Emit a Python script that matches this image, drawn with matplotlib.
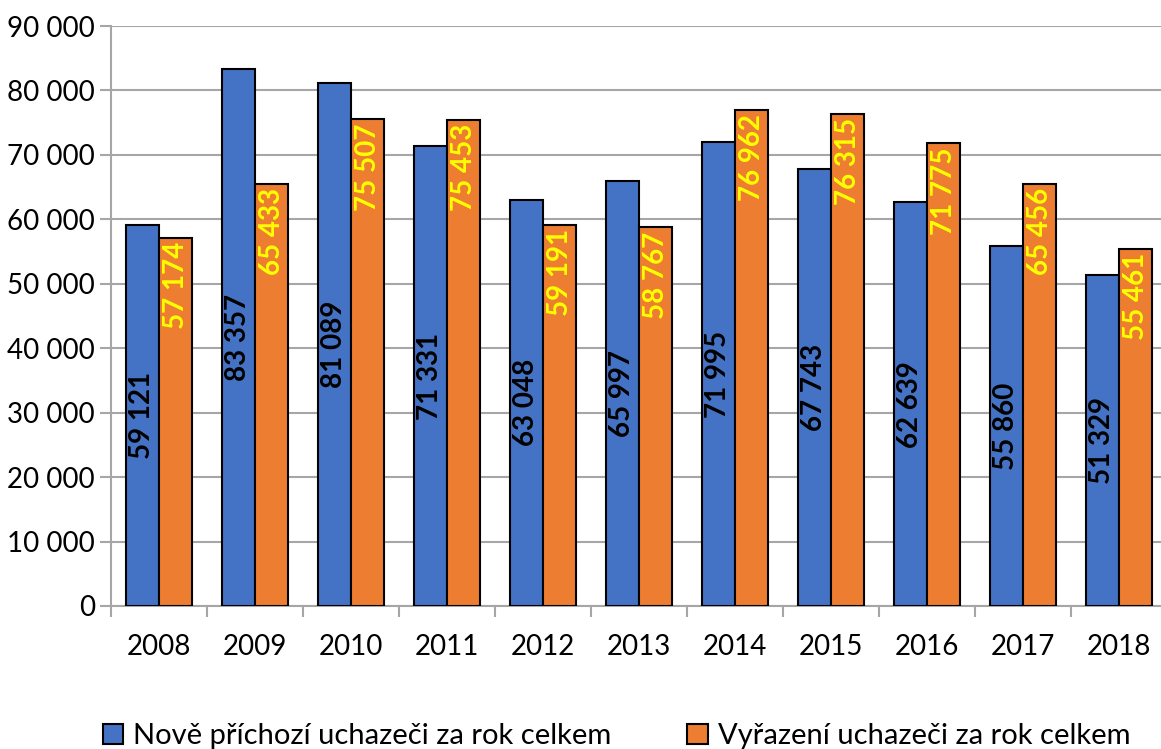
import numpy as np
import matplotlib.pyplot as plt
from matplotlib.patches import Patch

# data
years = ['2008', '2009', '2010', '2011', '2012', '2013', '2014', '2015', '2016', '2017', '2018']
nove = [59121, 83357, 81089, 71331, 63048, 65997, 71995, 67743, 62639, 55860, 51329]
vyrazeni = [57174, 65433, 75507, 75453, 59191, 58767, 76962, 76315, 71775, 65456, 55461]
legend_labels = ['Nově příchozí uchazeči za rok celkem', 'Vyřazení uchazeči za rok celkem']

plt.rcParams['font.family'] = ['Lato', 'DejaVu Sans']

def fmt(v):
    return f"{v:,}".replace(',', ' ')

blue = '#4472C4'
orange = '#ED7D31'
grid_c = '#A6A6A6'

fig = plt.figure(figsize=(11.61, 7.49), dpi=100)
ax = fig.add_axes([111/1161, 1-606/749, 1056/1161, 580/749])

x = np.arange(len(years))
w = 0.345
ax.bar(x - w/2, nove, w, color=blue, edgecolor='black', linewidth=1.5, zorder=3)
ax.bar(x + w/2, vyrazeni, w, color=orange, edgecolor='black', linewidth=1.5, zorder=3)

# popisky hodnot
for xi, v in zip(x, nove):
    ax.text(xi - w/2, v/2, fmt(v), rotation=90, ha='center', va='center',
            fontsize=20, fontweight='bold', color='black', zorder=4)
for xi, v in zip(x, vyrazeni):
    ax.annotate(fmt(v), (xi + w/2, v), xytext=(0, -3), textcoords='offset points',
                rotation=90, ha='center', va='top', fontsize=20, fontweight='bold',
                color='#FFFF00', zorder=4)

ax.set_ylim(0, 90000)
ax.set_xlim(-0.5, len(years) - 0.5)
ax.set_yticks(range(0, 90001, 10000))
ax.set_yticklabels([fmt(t) for t in range(0, 90001, 10000)], fontsize=20)
ax.set_xticks(x)
ax.set_xticklabels(years, fontsize=20)
ax.set_xticks(np.arange(-0.5, len(years)), minor=True)
ax.tick_params(axis='x', which='major', length=0, pad=20)
ax.tick_params(axis='x', which='minor', length=8, width=1.5, color=grid_c)
ax.tick_params(axis='y', length=8, width=1.5, color=grid_c, pad=3.5)

ax.yaxis.grid(True, color=grid_c, linewidth=1.5, zorder=0)
ax.set_axisbelow(True)
for s in ['top', 'right']:
    ax.spines[s].set_visible(False)
for s in ['left', 'bottom']:
    ax.spines[s].set_color(grid_c)
    ax.spines[s].set_linewidth(1.5)

handles = [Patch(facecolor=blue, edgecolor='black', linewidth=1.5),
           Patch(facecolor=orange, edgecolor='black', linewidth=1.5)]
fig.legend(handles, legend_labels, loc='center', bbox_to_anchor=(0.531, 1 - 736/749),
           ncol=2, frameon=False, fontsize=21, handlelength=0.7, handleheight=0.7,
           handletextpad=0.35, columnspacing=2.6)

fig.savefig('out.png', dpi=100)
